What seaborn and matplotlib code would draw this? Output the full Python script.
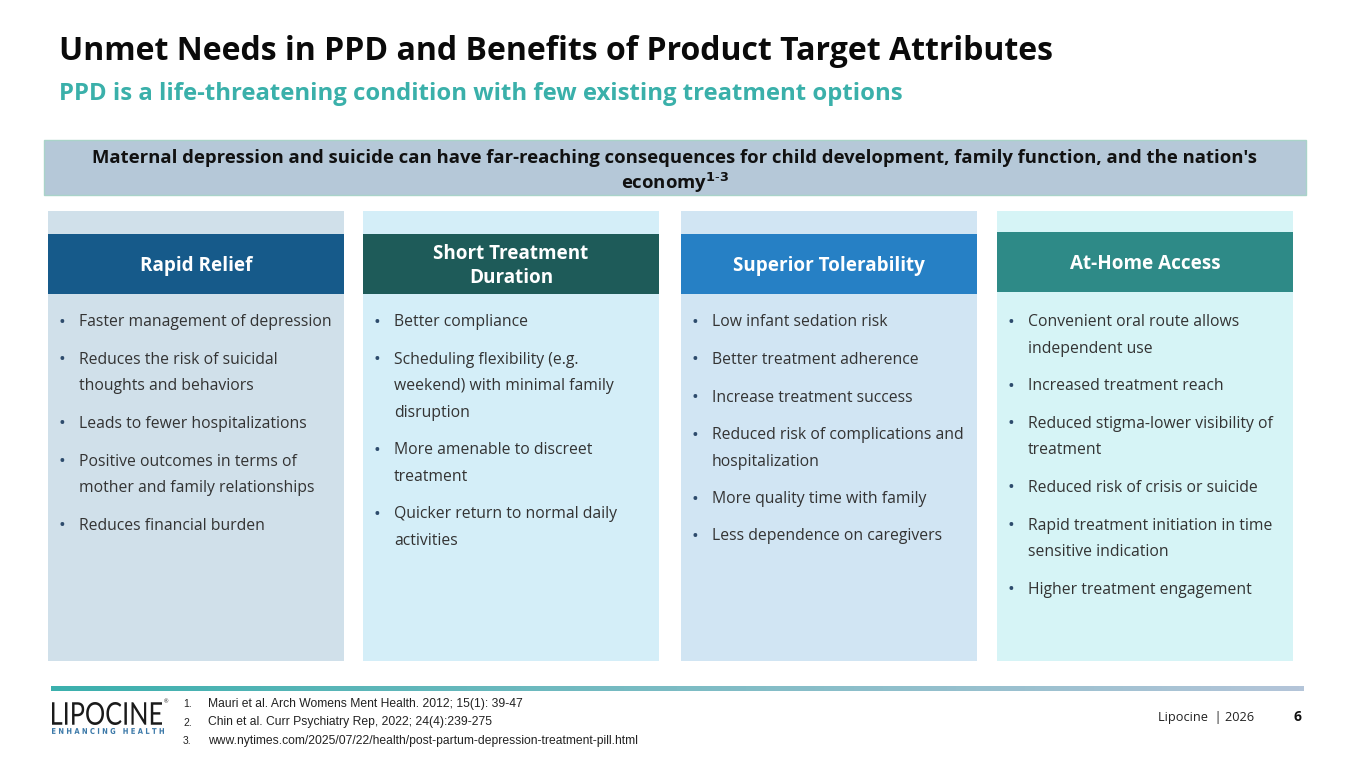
import numpy as np
import matplotlib
matplotlib.use("Agg")
import matplotlib.pyplot as plt
import seaborn as sns
from matplotlib.patches import Rectangle, PathPatch
from matplotlib.colors import LinearSegmentedColormap
from matplotlib.textpath import TextPath
from matplotlib.font_manager import FontProperties
from matplotlib.transforms import Affine2D

sns.set_theme(style="white")
plt.rcParams['font.family'] = ['Open Sans', 'DejaVu Sans']

## slide texts
title = "Unmet Needs in PPD and Benefits of Product Target Attributes"
subtitle = "PPD is a life-threatening condition with few existing treatment options"
banner_lines = ["Maternal depression and suicide can have far-reaching consequences for child development, family function, and the nation's",
                "economy$^{\\mathbf{1\\text{-}3}}$"]
col_titles = ["Rapid Relief", "Short Treatment\nDuration", "Superior Tolerability", "At-Home Access"]
col1_items = ["Faster management of depression",
              "Reduces the risk of suicidal\nthoughts and behaviors",
              "Leads to fewer hospitalizations",
              "Positive outcomes in terms of\nmother and family relationships",
              "Reduces financial burden"]
col2_items = ["Better compliance",
              "Scheduling flexibility (e.g.\nweekend) with minimal family\ndisruption",
              "More amenable to discreet\ntreatment",
              "Quicker return to normal daily\nactivities"]
col3_items = ["Low infant sedation risk",
              "Better treatment adherence",
              "Increase treatment success",
              "Reduced risk of complications and\nhospitalization",
              "More quality time with family",
              "Less dependence on caregivers"]
col4_items = ["Convenient oral route allows\nindependent use",
              "Increased treatment reach",
              "Reduced stigma-lower visibility of\ntreatment",
              "Reduced risk of crisis or suicide",
              "Rapid treatment initiation in time\nsensitive indication",
              "Higher treatment engagement"]
references = ["Mauri et al. Arch Womens Ment Health. 2012; 15(1): 39-47",
              "Chin et al. Curr Psychiatry Rep, 2022; 24(4):239-275",
              "www.nytimes.com/2025/07/22/health/post-partum-depression-treatment-pill.html"]
footer_text = "Lipocine  | 2026"
page_no = "6"

## styles
panel_colors = ['#d0e0ea', '#d4eef8', '#d1e5f3', '#d6f4f6']
header_colors = ['#165a8a', '#1e5b59', '#2680c5', '#2e8a87']
col_x = [48, 363, 681, 997]
col_w = 296
header_top = [234, 234, 234, 232]
teal = '#3ab0aa'
text_gray = '#333333'

fig = plt.figure(figsize=(13.5, 7.59), dpi=100)
ax = fig.add_axes([0, 0, 1, 1])
ax.set_xlim(0, 1350); ax.set_ylim(759, 0)
ax.axis('off')

# titles
ax.text(59, 52, title, fontsize=23, fontweight='bold', color='#0a0a0a', va='center', ha='left')
ax.text(59, 94, subtitle, fontsize=17.2, fontweight='bold', color=teal, va='center', ha='left')

# banner
ax.add_patch(Rectangle((44, 140), 1262, 55, facecolor='#b5c8d8', edgecolor='#a9d3c9', lw=1))
ax.text(675, 158, banner_lines[0], fontsize=13.3, fontweight='bold', color='#111111', ha='center', va='center')
ax.text(675, 183, banner_lines[1], fontsize=13.3, fontweight='bold', color='#111111', ha='center', va='center')

# columns
all_items = [col1_items, col2_items, col3_items, col4_items]
for i in range(4):
    x0 = col_x[i]
    ax.add_patch(Rectangle((x0, 211), col_w, 450, facecolor=panel_colors[i], edgecolor='none'))
    ax.add_patch(Rectangle((x0, header_top[i]), col_w, 60, facecolor=header_colors[i], edgecolor='none'))
    ax.text(x0 + col_w / 2, header_top[i] + 32, col_titles[i], fontsize=13.6, fontweight='bold',
            color='white', ha='center', va='center', linespacing=1.3)
    y = 322.5
    for item in all_items[i]:
        ax.text(x0 + 14, y + 0.5, '•', fontsize=13, color='#2d4b6c', ha='center', va='center')
        for line in item.split('\n'):
            ax.text(x0 + 31, y, line, fontsize=11.3, color=text_gray, ha='left', va='center')
            y += 26.5
        y += 11

# footer gradient line
cmap = LinearSegmentedColormap.from_list('foot', ['#3bb0ad', '#7cbcc4', '#b4c5d9'])
ax.imshow(np.linspace(0, 1, 256).reshape(1, -1), cmap=cmap, aspect='auto',
          extent=[51, 1304, 691, 686], zorder=2)

# logo
def draw_logo_text(s, x, y, w, h, prop, color):
    tp = TextPath((0, 0), s, size=10, prop=prop)
    bb = tp.get_extents()
    tr = Affine2D().translate(-bb.x0, -bb.y0).scale(w / bb.width, -h / bb.height).translate(x, y + h)
    ax.add_patch(PathPatch(tr.transform_path(tp), facecolor=color, edgecolor='none', zorder=3))

draw_logo_text("LIPOCINE", 52, 702, 110, 23, FontProperties(family=['Lato', 'DejaVu Sans'], weight='normal'), '#1a1a1a')
ax.text(164, 702, '®', fontsize=4, color='#1a1a1a', ha='left', va='center')
draw_logo_text("E N H A N C I N G   H E A L T H", 52, 728, 112, 6, FontProperties(family=['DejaVu Sans'], weight='bold'), '#3a78a8')

# references
for k, ref in enumerate(references):
    yy = 704 + k * 18.5
    ax.text(183, yy, f"{k + 1}.", fontsize=7.5, color='#222222', family='Liberation Sans', va='center', ha='left')
    ax.text(208, yy, ref, fontsize=8.7, color='#222222', family='Liberation Sans', va='center', ha='left')

ax.text(1254, 718, footer_text, fontsize=9.2, color='#222222', ha='right', va='center')
ax.text(1297, 717, page_no, fontsize=10, fontweight='bold', color='#111111', ha='center', va='center')

fig.savefig('out.png', dpi=100, facecolor='white')
